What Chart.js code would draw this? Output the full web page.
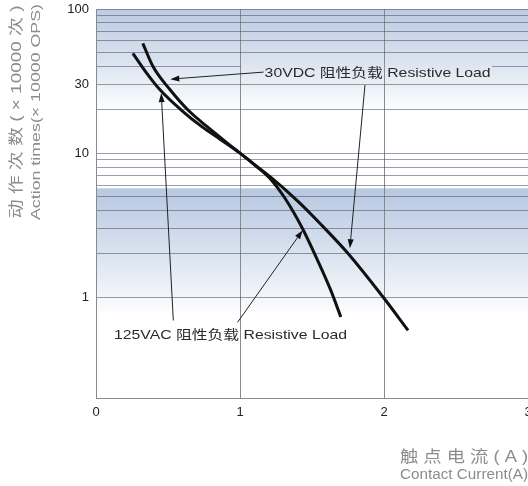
<!DOCTYPE html>
<html>
<head>
<meta charset="utf-8">
<script src="https://cdn.jsdelivr.net/npm/chart.js@4.4.0/dist/chart.umd.min.js"></script>
<style>
  html, body { margin: 0; padding: 0; background: #fff; overflow: hidden; }
  #wrap { width: 528px; height: 486px; position: relative; }
</style>
</head>
<body>
<div id="wrap"><canvas id="life-chart"></canvas></div>
<script>
// contact current (A) vs action times (x10000 ops)
const current125 = [0.256, 0.353, 0.446, 0.592, 0.737, 0.864, 1.0, 1.108, 1.213, 1.317, 1.433, 1.538, 1.63, 1.70];
const ops125 = [49.3, 35.8, 27.4, 19.9, 15.2, 12.45, 10, 8.2, 6.6, 4.79, 3.01, 1.81, 1.12, 0.73];
const current30 = [0.325, 0.397, 0.516, 0.639, 0.774, 0.934, 1.0, 1.108, 1.213, 1.401, 1.561, 1.749, 2.0, 2.167];
const ops30 = [57.8, 39.7, 27.4, 19.9, 15.2, 11.28, 10, 8.2, 6.81, 4.64, 3.21, 2.02, 0.984, 0.59];

const xTicks = [0, 1, 2, 3];
const yGridValues = [1, 2, 3, 4, 5, 6, 7, 8, 9, 10, 20, 30, 40, 50, 60, 70, 80, 90, 100];
const yTickLabels = [1, 10, 30, 100];

const label30 = "30VDC 阻性负载 Resistive Load";
const label125 = "125VAC 阻性负载 Resistive Load";

const FONT = '"Liberation Sans", Arial, "Noto Sans CJK SC", sans-serif';
const GRID = "rgba(70, 80, 100, 0.55)";

function toPoints(xs, ys) {
  return xs.map((x, i) => ({ x: x, y: ys[i] }));
}

// draw text squeezed/stretched to a given width
function fitText(ctx, text, x, y, width, align) {
  const w = ctx.measureText(text).width;
  ctx.save();
  ctx.translate(x, y);
  ctx.scale(width / w, 1);
  ctx.textAlign = "left";
  let off = 0;
  if (align === "right") off = -w;
  if (align === "center") off = -w / 2;
  ctx.fillText(text, off, 0);
  ctx.restore();
}

function arrow(ctx, x1, y1, x2, y2) {
  const ang = Math.atan2(y2 - y1, x2 - x1);
  const len = 9, half = 3;
  ctx.beginPath();
  ctx.moveTo(x1, y1);
  ctx.lineTo(x2 - Math.cos(ang) * len, y2 - Math.sin(ang) * len);
  ctx.stroke();
  ctx.beginPath();
  ctx.moveTo(x2, y2);
  ctx.lineTo(x2 - Math.cos(ang) * len - Math.sin(ang) * half, y2 - Math.sin(ang) * len + Math.cos(ang) * half);
  ctx.lineTo(x2 - Math.cos(ang) * len + Math.sin(ang) * half, y2 - Math.sin(ang) * len - Math.cos(ang) * half);
  ctx.closePath();
  ctx.fill();
}

// blue bands behind the grid
const bandsPlugin = {
  id: "bands",
  beforeDraw(chart) {
    const { ctx, chartArea: a, scales: { y } } = chart;
    ctx.save();
    ctx.fillStyle = "#fff";
    ctx.fillRect(0, 0, chart.width, chart.height);

    const t1 = y.getPixelForValue(100), b1 = y.getPixelForValue(19);
    const g1 = ctx.createLinearGradient(0, t1, 0, b1);
    g1.addColorStop(0, "#bccbe3");
    g1.addColorStop(0.45, "#d6e0ee");
    g1.addColorStop(1, "#ffffff");
    ctx.fillStyle = g1;
    ctx.fillRect(a.left, t1, a.right - a.left, b1 - t1);

    const t2 = y.getPixelForValue(5.7), b2 = y.getPixelForValue(0.8);
    const g2 = ctx.createLinearGradient(0, t2, 0, b2);
    g2.addColorStop(0, "#b8c8e1");
    g2.addColorStop(0.5, "#d7e1ef");
    g2.addColorStop(1, "#fbfcfe");
    ctx.fillStyle = g2;
    ctx.fillRect(a.left, t2, a.right - a.left, b2 - t2);
    chart.$band1 = g1;
    ctx.restore();
  }
};

// labels, arrows and axis titles
const notesPlugin = {
  id: "notes",
  afterDatasetsDraw(chart) {
    const { ctx, scales: { x, y } } = chart;
    const px = v => x.getPixelForValue(v);
    const py = v => y.getPixelForValue(v);
    ctx.save();

    // 30VDC label box hides the 40 grid line
    const y40 = Math.round(py(40)) + 0.5;
    ctx.fillStyle = chart.$band1;
    ctx.fillRect(px(1) + 1, y40 - 2, 251, 4);
    ctx.strokeStyle = GRID;
    ctx.lineWidth = 1;
    const x2 = Math.round(px(2)) + 0.5;
    ctx.beginPath();
    ctx.moveTo(x2, y40 - 2);
    ctx.lineTo(x2, y40 + 2);
    ctx.stroke();

    ctx.fillStyle = "#2a2a2a";
    ctx.font = "13px " + FONT;
    ctx.textBaseline = "middle";
    fitText(ctx, label30, px(1.171), py(36), 226, "left");
    fitText(ctx, label125, px(0.125), py(0.545), 233, "left");

    ctx.strokeStyle = "#222";
    ctx.fillStyle = "#111";
    ctx.lineWidth = 1;
    arrow(ctx, px(1.164), py(36.5), px(0.516), py(32.6));
    arrow(ctx, px(1.868), py(29.7), px(1.763), py(2.19));
    arrow(ctx, px(0.537), py(0.69), px(0.453), py(26.1));
    arrow(ctx, px(0.983), py(0.67), px(1.436), py(2.92));

    // axis titles
    ctx.fillStyle = "#8c8c8c";
    ctx.textBaseline = "middle";
    ctx.font = "16px " + FONT;
    fitText(ctx, "触 点 电 流 ( A )", 528, 458, 128, "right");
    ctx.font = "15px " + FONT;
    fitText(ctx, "Contact Current(A)", 528, 475, 128, "right");

    ctx.save();
    ctx.translate(17, 112);
    ctx.rotate(-Math.PI / 2);
    ctx.font = "15px " + FONT;
    fitText(ctx, "动 作 次 数 ( × 10000 次 )", 0, 0, 213, "center");
    ctx.restore();
    ctx.save();
    ctx.translate(36, 112);
    ctx.rotate(-Math.PI / 2);
    ctx.font = "13px " + FONT;
    fitText(ctx, "Action times(× 10000 OPS)", 0, 0, 216, "center");
    ctx.restore();

    ctx.restore();
  }
};

document.addEventListener("DOMContentLoaded", function () {
  const ctx = document.getElementById("life-chart");
  new Chart(ctx, {
    type: "line",
    data: {
      datasets: [
        {
          label: "125VAC",
          data: toPoints(current125, ops125),
          borderColor: "#111",
          borderWidth: 3,
          pointRadius: 0,
          cubicInterpolationMode: "monotone",
          fill: false,
        },
        {
          label: "30VDC",
          data: toPoints(current30, ops30),
          borderColor: "#111",
          borderWidth: 3,
          pointRadius: 0,
          cubicInterpolationMode: "monotone",
          fill: false,
        },
      ],
    },
    options: {
      responsive: true,
      maintainAspectRatio: false,
      animation: false,
      devicePixelRatio: 1,
      layout: { padding: { top: 9, right: 0, left: 0, bottom: 0 } },
      plugins: {
        legend: { display: false },
        tooltip: { enabled: false },
      },
      scales: {
        x: {
          type: "linear",
          min: 0,
          max: 3,
          afterBuildTicks: s => { s.ticks = xTicks.map(v => ({ value: v })); },
          afterFit: s => { s.height = 88; s.paddingLeft = 0; s.paddingRight = 0; },
          ticks: { font: { family: FONT, size: 13 }, color: "#222", padding: 7, maxRotation: 0 },
          grid: { color: "#8a8a8a", lineWidth: 1, drawTicks: false },
          border: { color: "#8a8a8a", width: 1 },
        },
        y: {
          type: "logarithmic",
          min: 0.2,
          max: 100,
          afterBuildTicks: s => { s.ticks = yGridValues.map(v => ({ value: v })); },
          afterFit: s => { s.width = 96; s.paddingTop = 0; s.paddingBottom = 0; },
          ticks: {
            autoSkip: false,
            font: { family: FONT, size: 13 },
            color: "#222",
            padding: 7,
            callback: v => (yTickLabels.includes(v) ? String(v) : ""),
          },
          grid: { color: GRID, lineWidth: 1, drawTicks: false },
          border: { color: "#8a8a8a", width: 1 },
        },
      },
    },
    plugins: [bandsPlugin, notesPlugin],
  });
});
</script>
</body>
</html>
